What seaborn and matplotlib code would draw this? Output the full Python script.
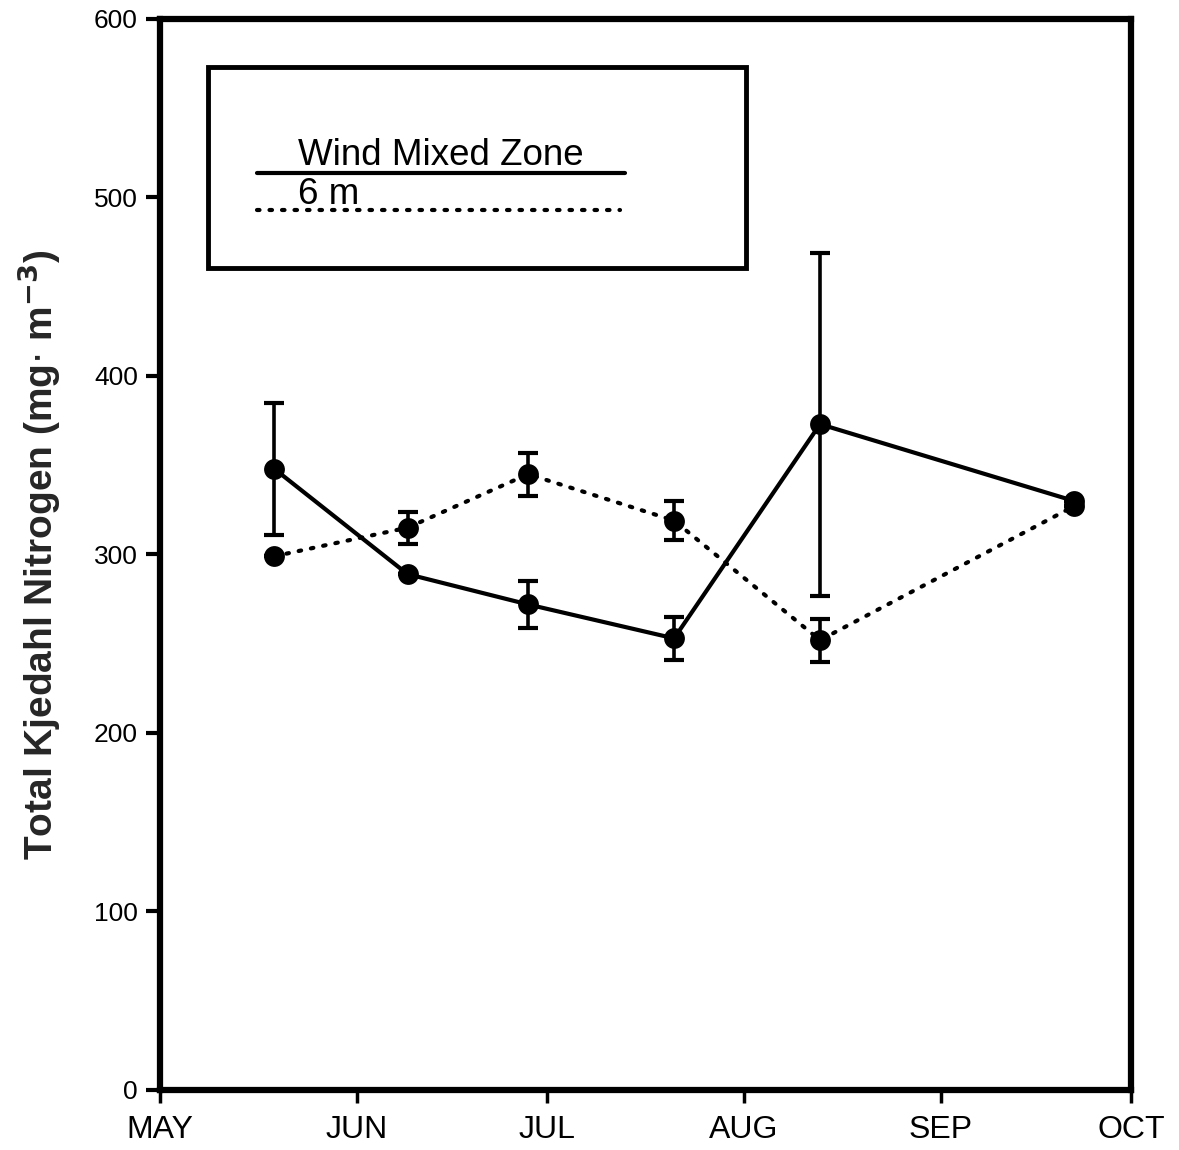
import matplotlib
matplotlib.use("Agg")
import matplotlib.pyplot as plt
from matplotlib.patches import Rectangle
from matplotlib.lines import Line2D
import pandas as pd
import seaborn as sns

# Sampling dates and Total Kjeldahl Nitrogen (mg m^-3)
sample_dates = ["1990-05-19", "1990-06-09", "1990-06-28",
                "1990-07-21", "1990-08-13", "1990-09-22"]
wind_mixed = [348, 289, 272, 253, 373, 330]
wind_mixed_err = [37, 0, 13, 12, 96, 0]
depth_6m = [299, 315, 345, 319, 252, 327]
depth_6m_err = [0, 9, 12, 11, 12, 0]

month_starts = ["1990-05-01", "1990-06-01", "1990-07-01",
                "1990-08-01", "1990-09-01", "1990-10-01"]
month_labels = ["MAY", "JUN", "JUL", "AUG", "SEP", "OCT"]
y_ticks = [0, 100, 200, 300, 400, 500, 600]

series_names = ["Wind Mixed Zone", "6 m"]

dates = pd.to_datetime(sample_dates)
df = pd.DataFrame({
    "date": list(dates) * 2,
    "tkn": wind_mixed + depth_6m,
    "err": wind_mixed_err + depth_6m_err,
    "series": [series_names[0]] * len(dates) + [series_names[1]] * len(dates),
})

sns.set_theme(style="white")
plt.rcParams["font.family"] = ["Liberation Sans", "DejaVu Sans"]

fig = plt.figure(figsize=(11.79, 11.5), dpi=100)
ax = fig.add_axes([0.1357, 0.0522, 0.8236, 0.9313])

lw = 3.0
dotted = (0, (0.6, 2.4))
styles = {series_names[0]: "-", series_names[1]: dotted}

for name in series_names:
    sub = df[df["series"] == name]
    ax.errorbar(sub["date"], sub["tkn"], yerr=sub["err"], fmt="none",
                ecolor="black", elinewidth=2.6, capsize=7, capthick=3.0,
                zorder=2)

sns.lineplot(data=df, x="date", y="tkn", hue="series", style="series",
             palette=["black", "black"], dashes=False, markers=["o", "o"],
             markersize=15, markeredgewidth=0, linewidth=0,
             legend=False, ax=ax, zorder=3)

for name in series_names:
    sub = df[df["series"] == name]
    ax.plot(sub["date"], sub["tkn"], color="black", linewidth=lw,
            linestyle=styles[name], dash_capstyle="round", zorder=2.5)

ms = pd.to_datetime(month_starts)
ax.set_xlim(ms[0], ms[-1])
ax.set_ylim(0, 600)
ax.set_xticks(ms)
ax.set_xticklabels(month_labels)
ax.set_yticks(y_ticks)
ax.set_yticklabels([str(v) for v in y_ticks])

for side in ["left", "bottom", "right", "top"]:
    ax.spines[side].set_visible(True)
    ax.spines[side].set_color("black")
    ax.spines[side].set_linewidth(4.5)

ax.tick_params(axis="x", which="both", bottom=True, top=False, direction="out",
               length=9, width=2.5, labelsize=23, pad=9, colors="black")
ax.tick_params(axis="y", which="both", left=True, right=False, direction="out",
               length=10, width=3, labelsize=19, pad=6, colors="black")

ax.set_xlabel("")
ax.set_ylabel(r"Total Kjedahl Nitrogen (mg$\cdot$ m$^{\mathbf{-3}}$)",
              fontsize=28, fontweight="bold", labelpad=22)

# Key box in the upper left
box = Rectangle((0.049, 0.7675), 0.555, 0.1875, transform=ax.transAxes,
                fill=False, edgecolor="black", linewidth=3.5, zorder=4)
ax.add_patch(box)
ax.add_line(Line2D([0.1, 0.479], [0.8565, 0.8565], transform=ax.transAxes,
                   color="black", linewidth=lw, zorder=4))
ax.text(0.142, 0.8637, series_names[0], transform=ax.transAxes,
        fontsize=26.5, ha="left", va="baseline", color="black", zorder=4)
ax.add_line(Line2D([0.1, 0.474], [0.8212, 0.8212], transform=ax.transAxes,
                   color="black", linewidth=lw, linestyle=dotted,
                   dash_capstyle="round", zorder=4))
ax.text(0.142, 0.8273, series_names[1], transform=ax.transAxes,
        fontsize=26.5, ha="left", va="baseline", color="black", zorder=4)

fig.savefig("out.png", dpi=100, facecolor="white")
